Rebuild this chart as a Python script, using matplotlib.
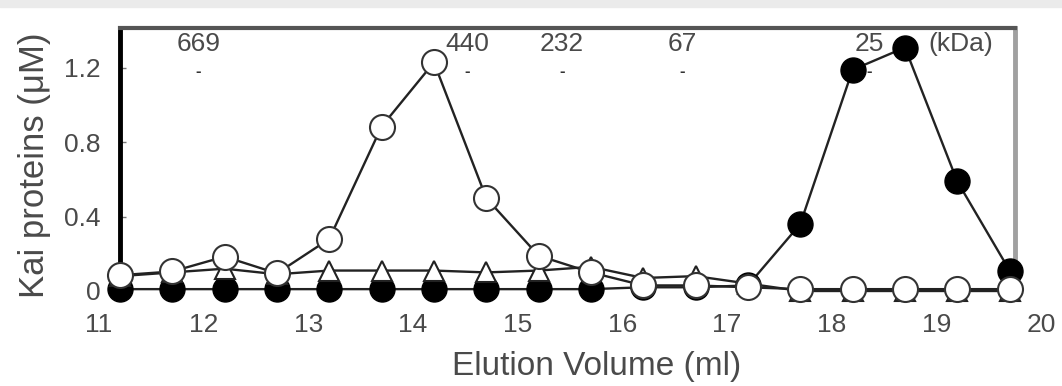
import matplotlib.pyplot as plt
from matplotlib.patches import Rectangle

# elution volume (ml) of each fraction
volume = [11.2, 11.7, 12.2, 12.7, 13.2, 13.7, 14.2, 14.7, 15.2,
          15.7, 16.2, 16.7, 17.2, 17.7, 18.2, 18.7, 19.2, 19.7]

# Kai proteins (uM)
open_circles = [0.085, 0.105, 0.185, 0.095, 0.28, 0.885, 1.23, 0.50, 0.19,
                0.10, 0.03, 0.03, 0.02, 0.01, 0.01, 0.01, 0.01, 0.01]
triangles = [0.08, 0.10, 0.12, 0.09, 0.11, 0.11, 0.11, 0.10, 0.11,
             0.13, 0.07, 0.08, 0.04, 0.0, 0.0, 0.0, 0.0, 0.0]
filled_circles = [0.01, 0.01, 0.01, 0.01, 0.01, 0.01, 0.01, 0.01, 0.01,
                  0.01, 0.02, 0.02, 0.03, 0.36, 1.19, 1.31, 0.59, 0.11]

# size markers (kDa) and their elution volumes
marker_labels = ['669', '440', '232', '67', '25']
marker_volume = [11.95, 14.52, 15.42, 16.57, 18.36]

xticks = [11, 12, 13, 14, 15, 16, 17, 18, 19, 20]
yticks = [0, 0.4, 0.8, 1.2]

plt.rcParams['font.family'] = ['Liberation Sans', 'DejaVu Sans']
txt = '#4a4a4a'

fig = plt.figure(figsize=(10.62, 3.86), dpi=100)
fig.patches.append(Rectangle((0, 1 - 7 / 386), 1, 7 / 386, transform=fig.transFigure,
                             color='#ebebeb', zorder=0))
ax = fig.add_axes([99 / 1062, 95 / 386, 942 / 1062, 263 / 386])

ax.plot(volume, filled_circles, color='#222222', lw=1.7, marker='o', ms=18,
        mfc='black', mec='black', clip_on=False, zorder=3)
ax.plot(volume, triangles, color='#222222', lw=1.7, marker='^', ms=15,
        mfc='white', mec='#222222', mew=1.5, clip_on=False, zorder=4)
ax.plot(volume, open_circles, color='#222222', lw=1.7, marker='o', ms=18,
        mfc='white', mec='#333333', mew=1.5, clip_on=False, zorder=5)

for lab, v in zip(marker_labels, marker_volume):
    ax.text(v, 1.33, lab, ha='center', va='center', fontsize=19, color=txt, zorder=2)
    ax.text(v, 1.18, '-', ha='center', va='center', fontsize=12, color='#333333',
            fontweight='bold', zorder=2)
ax.text(19.23, 1.33, '(kDa)', ha='center', va='center', fontsize=19, color=txt)

ax.set_xlim(11, 20)
ax.set_ylim(0, 1.415)
ax.set_xticks(xticks)
ax.set_xticklabels([str(t) for t in xticks])
ax.set_yticks(yticks)
ax.set_yticklabels(['0', '0.4', '0.8', '1.2'])
ax.tick_params(axis='x', length=0, pad=16, labelsize=19, labelcolor=txt)
ax.tick_params(axis='y', direction='in', length=4, width=1, color='#777777',
               pad=14, labelsize=19, labelcolor=txt)

ax.spines['bottom'].set_visible(False)
ax.spines['left'].set_position(('data', 11.2))
ax.spines['left'].set_linewidth(3.5)
ax.spines['left'].set_color('black')
ax.spines['right'].set_position(('data', 19.75))
ax.spines['right'].set_linewidth(3.5)
ax.spines['right'].set_color('#a0a0a0')
ax.spines['top'].set_bounds(11.2, 19.75)
ax.spines['top'].set_linewidth(3)
ax.spines['top'].set_color('#555555')

fig.text(597 / 1062, 1 - 367 / 386, 'Elution Volume (ml)', ha='center', va='center',
         fontsize=24, color=txt)
fig.text(35 / 1062, 1 - 165 / 386, 'Kai proteins (\u03bcM)', ha='center', va='center',
         rotation=90, fontsize=25, color=txt)

fig.savefig('out.png', dpi=100)
